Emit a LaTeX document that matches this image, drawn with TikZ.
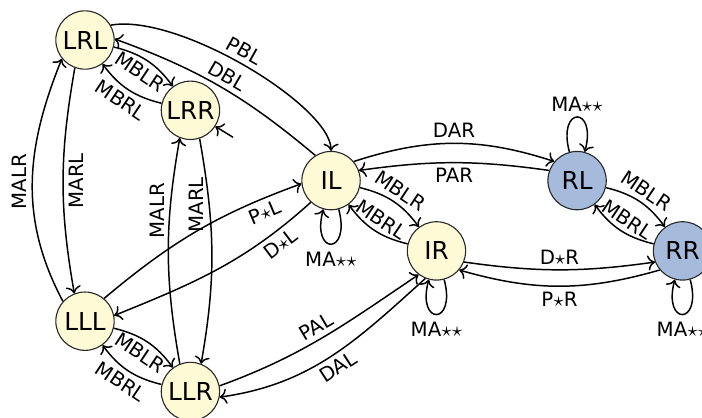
\documentclass[tikz,border=0pt]{standalone}
\usepackage{fontspec}
\setmainfont{DejaVu Sans}
\usetikzlibrary{arrows.meta}
\definecolor{stateyellow}{RGB}{255,250,214}
\definecolor{stateblue}{RGB}{166,187,219}
\definecolor{stateedge}{RGB}{40,40,40}
\tikzset{
  state/.style={circle, draw=stateedge, line width=0.45pt, minimum size=0.83cm, inner sep=0pt,
    font=\fontsize{10}{12}\selectfont},
  lstate/.style={state, fill=stateyellow},
  rstate/.style={state, fill=stateblue},
  trans/.style={->, line width=0.6pt},
  lbl/.style={font=\fontsize{8}{9.6}\selectfont, sloped, inner sep=2pt},
  vlbl/.style={font=\fontsize{8}{9.6}\selectfont, rotate=90, inner sep=2pt},
  every loop/.style={->, line width=0.6pt},
}
\begin{document}
\begin{tikzpicture}
\useasboundingbox (-1.209,-1.366) rectangle (8.777,4.569);
\clip (-1.209,-1.366) rectangle (8.777,4.569);

% states
\node[lstate] (LLL) at (0,0) {LLL};
\node[lstate] (LLR) at (1.5,-1) {LLR};
\node[lstate] (LRL) at (0,4) {LRL};
\node[lstate] (LRR) at (1.5,3) {LRR};
\node[lstate] (IL) at (3.5,2) {IL};
\node[lstate] (IR) at (5,1) {IR};
\node[rstate] (RL) at (7,2) {RL};
\node[rstate] (RR) at (8.5,1) {RR};
\coordinate (stub) at (2.105,2.617);

% left column: LRL <-> LLL
\draw[trans] (LLL.138) to[out=118, in=248] node[vlbl, anchor=south] {MALR} (LRL.219);
\draw[trans] (LRL.250) to[out=260, in=100] node[vlbl, anchor=north] {MARL} (LLL.111);
% LRR <-> LLR
\draw[trans] (LLR.111) to[out=100, in=260] node[vlbl, anchor=south, pos=0.69] {MALR} (LRR.249);
\draw[trans] (LRR.288) to[out=280, in=80] node[vlbl, anchor=south, pos=0.28] {MARL} (LLR.69);

% bridge moves
\draw[trans] (LRL) to[bend left=20] node[lbl, below] {MBLR} (LRR);
\draw[trans] (LRR) to[bend left=20] node[lbl, below] {MBRL} (LRL);
\draw[trans] (LLL) to[bend left=20] node[lbl, below] {MBLR} (LLR);
\draw[trans] (LLR) to[bend left=20] node[lbl, below] {MBRL} (LLL);
\draw[trans] (IL) to[bend left=20] node[lbl, above] {MBLR} (IR);
\draw[trans] (IR) to[bend left=20] node[lbl, above] {MBRL} (IL);
\draw[trans] (RL) to[bend left=20] node[lbl, above] {MBLR} (RR);
\draw[trans] (RR) to[bend left=20] node[lbl, above] {MBRL} (RL);

% LRL <-> IL
\draw[trans] (LRL.30) to[out=10, in=90, out looseness=0.7, in looseness=0.45]
  node[lbl, above, pos=0.47] {PBL} (IL.90);
\draw[trans] (IL.122) to[out=140, in=-20] node[lbl, above] {DBL} (LRL.2);

% LLL <-> IL
\draw[trans] (LLL.50) to[out=40, in=200] node[lbl, below, pos=0.82] {P$\star$L} (IL.186);
\draw[trans] (IL.227) to[out=222, in=22] node[lbl, below, pos=0.2] {D$\star$L} (LLL.11);

% LLR <-> IR
\draw[trans] (LLR.11) to[out=20, in=214] node[lbl, above, pos=0.5] {PAL} (IR.233);
\draw[trans] (IR.248) to[out=222, in=8] node[lbl, below, pos=0.5] {DAL} (LLR.-11);

% IL <-> RL
\draw[trans] (IL.40) to[bend left=18] node[lbl, above] {DAR} (RL.140);
\draw[trans] (RL.160) to[bend right=8] node[lbl, below] {PAR} (IL.20);

% IR <-> RR
\draw[trans] (IR.-22) to[bend right=8] node[lbl, above] {D$\star$R} (RR.202);
\draw[trans] (RR.220) to[bend left=16] node[lbl, below] {P$\star$R} (IR.-40);

% idle moves
\draw (IL) edge[loop below] node[lbl, below, yshift=-1pt] {MA$\star\star$} (IL);
\draw (IR) edge[loop below] node[lbl, below, yshift=-1pt] {MA$\star\star$} (IR);
\draw (RR) edge[loop below] node[lbl, below, yshift=-1pt] {MA$\star\star$} (RR);
\draw (RL) edge[loop above] node[lbl, above] {MA$\star\star$} (RL);

\draw[trans] (stub) -- (LRR.-33);
\end{tikzpicture}
\end{document}
